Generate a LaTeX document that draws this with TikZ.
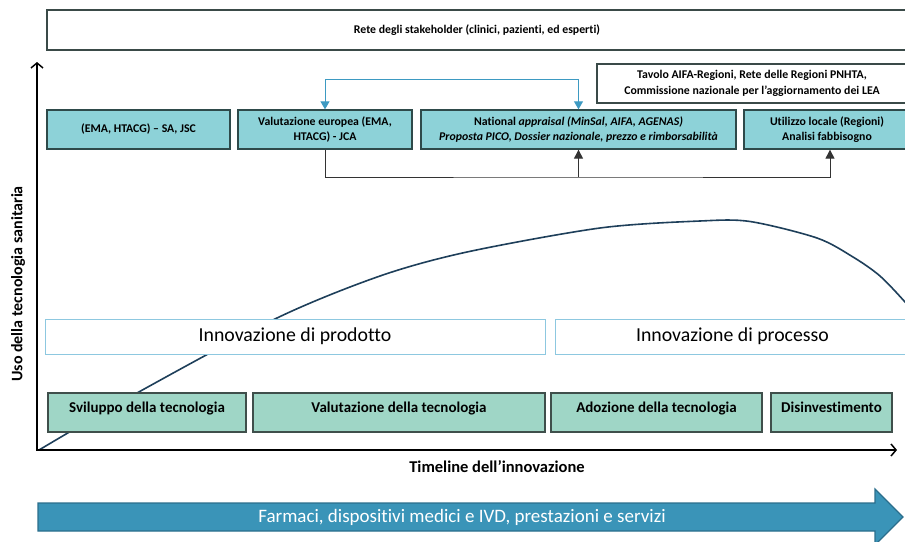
\documentclass[tikz,border=0pt]{standalone}
\usepackage{fontspec}
\setmainfont{Carlito}[Ligatures=NoCommon]
\usetikzlibrary{arrows.meta}
\definecolor{tealfill}{HTML}{8DD2D8}
\definecolor{tealborder}{HTML}{2E4A4A}
\definecolor{greenfill}{HTML}{9FD6C6}
\definecolor{greenborder}{HTML}{3F4F4B}
\definecolor{bluecon}{HTML}{3D9AC2}
\definecolor{innoborder}{HTML}{8DC8E0}
\definecolor{bigarrowfill}{HTML}{3A94B8}
\definecolor{bigarrowborder}{HTML}{2B6E8C}
\definecolor{curvecol}{HTML}{1E3F5A}
\definecolor{greyborder}{HTML}{3A4A48}
\definecolor{darkcon}{HTML}{333333}
\tikzset{
  whitebox/.style={draw=greyborder, line width=1.3pt, fill=white, inner sep=0pt, align=center,
    font=\bfseries\fontsize{11.8}{16}\selectfont},
  tealbox/.style={draw=tealborder, line width=1.3pt, fill=tealfill, inner sep=0pt, align=center,
    minimum height=39pt, font=\bfseries\fontsize{11.8}{15.5}\selectfont},
  innobox/.style={draw=innoborder, line width=1pt, fill=white, inner sep=0pt,
    minimum height=35pt, font=\fontsize{19.8}{22}\selectfont},
  greenbox/.style={draw=greenborder, line width=1.3pt, fill=greenfill, inner sep=0pt,
    minimum height=39pt, text height=9pt, text depth=9pt, font=\bfseries\fontsize{15}{18}\selectfont},
  blueline/.style={draw=bluecon, line width=1pt, {Triangle[width=9pt,length=8pt]}-{Triangle[width=9pt,length=8pt]}},
  darkline/.style={draw=darkcon, line width=1pt},
  axisline/.style={draw=black, line width=1.8pt, {Straight Barb[length=5pt,width=12pt,line width=1.5pt]}-{Straight Barb[length=5pt,width=12pt,line width=1.5pt]}},
  curveline/.style={draw=curvecol, line width=1.6pt},
}
\begin{document}
\begin{tikzpicture}[x=1pt,y=-1pt]
\useasboundingbox (0,0) rectangle (905,541);
\clip (0,0) rectangle (905,541);
% curve (behind boxes)
\draw[curveline] plot[smooth, tension=0.5] coordinates {(39,450) (137,393) (277,318) (380,276) (467,252) (600,228) (700,221) (750,221.5) (817,238) (853,257) (880,276) (905,302) (915,315)};
% axes
\coordinate (ytop) at (37,62);
\coordinate (orig) at (37,450);
\coordinate (xend) at (897,450);
\draw[axisline] (ytop) -- (orig) -- (xend);
% top stakeholder box
\node[whitebox, minimum width=860pt, minimum height=40pt] (stake) at (477,30) {Rete degli stakeholder (clinici, pazienti, ed esperti)};
\node[whitebox, minimum width=310pt, minimum height=39pt] (tavolo) at (752,83.5) {Tavolo AIFA-Regioni, Rete delle Regioni PNHTA,\\Commissione nazionale per l’aggiornamento dei LEA};
% teal row
\node[tealbox, minimum width=183pt] (b1) at (138.5,129.5) {(EMA, HTACG) – SA, JSC};
\node[tealbox, minimum width=174pt] (b2) at (325,129.5) {Valutazione europea (EMA,\\HTACG) - JCA};
\node[tealbox, minimum width=315pt] (b3) at (578.5,129.5) {National \textit{appraisal (MinSal, AIFA, AGENAS)}\\\textit{Proposta PICO, Dossier nazionale, prezzo e rimborsabilità}};
\node[tealbox, minimum width=166pt] (b4) at (827,129.5) {Utilizzo locale (Regioni)\\Analisi fabbisogno};
% connectors
\draw[blueline] (b2.north) -- ++(0,-30) -| (b3.north);
\coordinate (j3) at (578.5,177);
\coordinate (b4in) at ([xshift=3pt]b4.south);
\draw[darkline, -{Triangle[width=9pt,length=9pt]}] (b2.south) |- (j3) -| (b4in);
\draw[darkline, -{Triangle[width=9pt,length=9pt]}] (j3) -- (b3.south);
% innovation boxes
\node[innobox, minimum width=500pt] (i1) at (295,336.5) {Innovazione di prodotto};
\node[innobox, minimum width=355pt] (i2) at (732.5,336.5) {Innovazione di processo};
% green phase boxes
\node[greenbox, minimum width=198pt] (g1) at (147,412.5) {Sviluppo della tecnologia};
\node[greenbox, minimum width=292pt] (g2) at (399,412.5) {Valutazione della tecnologia};
\node[greenbox, minimum width=211pt] (g3) at (656.5,412.5) {Adozione della tecnologia};
\node[greenbox, minimum width=121pt] (g4) at (831.5,412.5) {Disinvestimento};
% axis labels
\node[rotate=90, font=\bfseries\fontsize{16}{18}\selectfont] (ylab) at (18,284) {Uso della tecnologia sanitaria};
\node[font=\bfseries\fontsize{16.5}{18}\selectfont] (xlab) at (497,467) {Timeline dell’innovazione};
% big arrow
\draw[fill=bigarrowfill, draw=bigarrowborder, line width=1.2pt] (38,503) -- (875,503) -- (875,489) -- (903,517) -- (875,545) -- (875,531) -- (38,531) -- cycle;
\node[text=white, font=\fontsize{19}{21}\selectfont] (farm) at (462,517) {Farmaci, dispositivi medici e IVD, prestazioni e servizi};
\end{tikzpicture}
\end{document}
